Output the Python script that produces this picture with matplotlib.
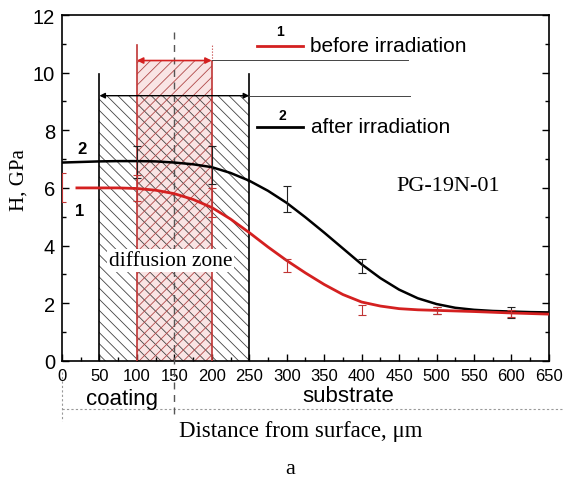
import matplotlib
matplotlib.use("Agg")
import matplotlib.pyplot as plt
from matplotlib.patches import Rectangle
from matplotlib.ticker import MultipleLocator

# --- datos ---
x_after = [0, 25, 50, 75, 100, 125, 150, 175, 200, 225, 250, 275, 300, 325, 350,
           375, 400, 425, 450, 475, 500, 525, 550, 575, 600, 625, 650]
h_after = [6.88, 6.9, 6.92, 6.93, 6.93, 6.92, 6.88, 6.82, 6.72, 6.52, 6.25, 5.9,
           5.48, 4.98, 4.45, 3.9, 3.35, 2.87, 2.47, 2.17, 1.97, 1.84, 1.77, 1.73,
           1.71, 1.69, 1.68]

x_before = [20, 50, 75, 100, 125, 150, 175, 200, 225, 250, 275, 300, 325, 350,
            375, 400, 425, 450, 475, 500, 550, 600, 650]
h_before = [6.0, 6.0, 6.0, 5.98, 5.92, 5.8, 5.6, 5.32, 4.92, 4.45, 3.95, 3.48,
            3.05, 2.65, 2.3, 2.04, 1.9, 1.81, 1.77, 1.75, 1.71, 1.66, 1.62]

x_err = [0, 100, 200, 300, 400, 500, 600]
h_err_before = [6.0, 6.0, 5.5, 3.3, 1.76, 1.75, 1.65]
e_before = [0.5, 0.45, 0.5, 0.23, 0.16, 0.12, 0.12]
x_err_after = [100, 200, 300, 400, 500, 600]
h_err_after = [6.9, 6.8, 5.6, 3.3, 1.75, 1.67]
e_after = [0.55, 0.65, 0.45, 0.24, 0.13, 0.2]

diff_zone = (50, 250)      # zona de difusion (negra)
irr_zone = (100, 200)      # zona roja
coat_end = 150

plt.rcParams['font.family'] = ['Liberation Sans', 'DejaVu Sans']
plt.rcParams['hatch.linewidth'] = 0.6
RED = '#d42020'
ZRED = '#c03535'

fig = plt.figure(figsize=(5.63, 4.85), dpi=100)
ax = fig.add_axes([0.110, 0.254, 0.865, 0.713])

# zonas sombreadas
ax.add_patch(Rectangle((irr_zone[0], 0), irr_zone[1] - irr_zone[0], 10.4,
                       facecolor='#f9e4e4', edgecolor='none', zorder=1))
ax.add_patch(Rectangle((diff_zone[0], 0), diff_zone[1] - diff_zone[0], 9.2,
                       facecolor='none', edgecolor='#444444', lw=0,
                       hatch='\\\\\\', zorder=2))
ax.add_patch(Rectangle((irr_zone[0], 0), irr_zone[1] - irr_zone[0], 10.4,
                       facecolor='none', edgecolor='#b04848', lw=0,
                       hatch='///', zorder=2))

# lineas de limite
ax.plot([diff_zone[0]] * 2, [0, 9.96], color='k', lw=1.2, zorder=3)
ax.plot([diff_zone[1]] * 2, [0, 9.96], color='k', lw=1.2, zorder=3)
ax.plot([irr_zone[0]] * 2, [0, 10.97], color=ZRED, lw=1.2, zorder=3)
ax.plot([irr_zone[1]] * 2, [0, 10.4], color=ZRED, lw=1.2, zorder=3)
ax.plot([irr_zone[1]] * 2, [10.4, 10.95], color=ZRED, lw=0.8, ls=':', zorder=3)
ax.plot([coat_end] * 2, [11.42, -1.9], color='#555555', lw=1.0, ls=(0, (5, 4)),
        zorder=3, clip_on=False)

# flechas
ax.annotate('', xy=(diff_zone[0], 9.2), xytext=(diff_zone[1], 9.2),
            arrowprops=dict(arrowstyle='<|-|>', color='k', lw=1.0,
                            mutation_scale=8, shrinkA=0, shrinkB=0), zorder=4)
ax.plot([diff_zone[1], 465], [9.2, 9.2], color='#444444', lw=0.7, zorder=3)
ax.annotate('', xy=(irr_zone[0], 10.42), xytext=(irr_zone[1], 10.42),
            arrowprops=dict(arrowstyle='<|-|>', color=RED, lw=1.2,
                            mutation_scale=9, shrinkA=0, shrinkB=0), zorder=4)
ax.plot([irr_zone[1], 462], [10.45, 10.45], color='#444444', lw=0.7, zorder=3)

# curvas
ax.plot(x_after, h_after, color='k', lw=1.8, zorder=5)
ax.plot(x_before, h_before, color=RED, lw=2.0, zorder=5)
ax.errorbar(x_err_after, h_err_after, yerr=e_after, fmt='none', ecolor='#222222',
            elinewidth=0.8, capsize=3, capthick=0.8, zorder=6)
ax.errorbar(x_err, h_err_before, yerr=e_before, fmt='none', ecolor=ZRED,
            elinewidth=0.8, capsize=3, capthick=0.8, zorder=6)

# leyenda manual
ax.plot([261, 322], [10.94, 10.94], color=RED, lw=2.0)
ax.text(331, 10.94, 'before irradiation', fontsize=15, va='center', ha='left')
ax.text(291, 11.45, '1', fontsize=10, fontweight='bold', ha='center', va='center')
ax.plot([261, 322], [8.12, 8.12], color='k', lw=2.0)
ax.text(333, 8.12, 'after irradiation', fontsize=15, va='center', ha='left')
ax.text(294, 8.52, '2', fontsize=10, fontweight='bold', ha='center', va='center')

ax.text(27, 7.36, '2', fontsize=12, fontweight='bold', ha='center', va='center')
ax.text(24, 5.2, '1', fontsize=12, fontweight='bold', ha='center', va='center')
ax.text(145, 3.47, 'diffusion zone', fontsize=15.5, family='Liberation Serif',
        ha='center', va='center', zorder=7,
        bbox=dict(facecolor='white', edgecolor='none', pad=1.5))
ax.text(516, 6.08, 'PG-19N-01', fontsize=16, family='Liberation Serif',
        ha='center', va='center')

# debajo del eje
ax.plot([0, 672], [-1.67, -1.67], color='#999999', lw=0.8, ls=(0, (2, 2)),
        clip_on=False)
ax.plot([0, 0], [-0.4, -2.1], color='#999999', lw=0.8, ls=(0, (2, 2)),
        clip_on=False)
ax.text(80, -1.3, 'coating', fontsize=16, ha='center', va='center')
ax.text(382, -1.22, 'substrate', fontsize=16, ha='center', va='center')

ax.set_xlim(0, 650)
ax.set_ylim(0, 12)
ax.xaxis.set_major_locator(MultipleLocator(50))
ax.xaxis.set_minor_locator(MultipleLocator(25))
ax.yaxis.set_major_locator(MultipleLocator(2))
ax.yaxis.set_minor_locator(MultipleLocator(1))
ax.tick_params(which='both', direction='in', left=True, right=True,
               bottom=True, top=False, width=1.0)
ax.tick_params(which='major', length=5)
ax.tick_params(which='minor', length=3)
ax.tick_params(axis='y', labelsize=14.5, pad=5)
ax.tick_params(axis='x', labelsize=12, pad=5)
for s in ax.spines.values():
    s.set_linewidth(1.2)

fig.text(19 / 563, 1 - 180 / 485, 'H, GPa', rotation=90, fontsize=15,
         family='Liberation Serif', ha='center', va='center')
fig.text(301 / 563, 1 - 432 / 485, 'Distance from surface, μm', fontsize=16.5,
         family='Liberation Serif', ha='center', va='center')
fig.text(290 / 563, 1 - 470 / 485, 'a', fontsize=16,
         family='Liberation Serif', ha='center', va='center')

plt.savefig('out.png', dpi=100)
plt.close()
